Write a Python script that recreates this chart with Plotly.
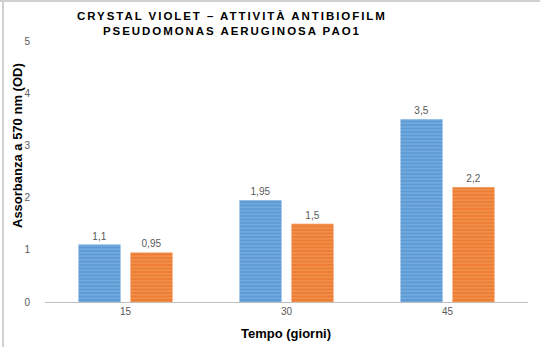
import plotly.graph_objects as go

categories = ["15", "30", "45"]
series_a = [1.1, 1.95, 3.5]
series_b = [0.95, 1.5, 2.2]
labels_a = ["1,1", "1,95", "3,5"]
labels_b = ["0,95", "1,5", "2,2"]
y_ticks = [0, 1, 2, 3, 4, 5]

W, H = 540, 347
ML, MR, MT, MB = 45, 12, 41, 45
pw, ph = W - ML - MR, H - MT - MB

def px(x):
    return (x - ML) / pw

def py(y):
    return (H - MB - y) / ph

fig = go.Figure()
fig.add_trace(go.Bar(
    x=categories, y=series_a, text=labels_a, textposition="outside",
    marker=dict(color="#5B9BD5", line=dict(width=0),
                pattern=dict(shape="-", fgcolor="#A9CBEB", bgcolor="#5B9BD5", size=3.5, solidity=0.3)),
    textfont=dict(family="Liberation Sans, Arial", size=10, color="#595959"),
    cliponaxis=False, showlegend=False,
))
fig.add_trace(go.Bar(
    x=categories, y=series_b, text=labels_b, textposition="outside",
    marker=dict(color="#ED7D31", line=dict(width=0),
                pattern=dict(shape="-", fgcolor="#F7B98F", bgcolor="#ED7D31", size=3.5, solidity=0.3)),
    textfont=dict(family="Liberation Sans, Arial", size=10, color="#595959"),
    cliponaxis=False, showlegend=False,
))

fig.update_layout(
    width=W, height=H,
    margin=dict(l=ML, r=MR, t=MT, b=MB),
    paper_bgcolor="white", plot_bgcolor="white",
    barmode="group", bargap=0.354, bargroupgap=0.19,
    font=dict(family="Liberation Sans, Arial", color="#595959"),
    xaxis=dict(type="category", showline=True, linecolor="#BFBFBF", linewidth=1,
               ticks="", tickfont=dict(size=10, color="#595959"), showgrid=False),
    yaxis=dict(range=[0, 5], tickvals=y_ticks, showgrid=False, zeroline=False,
               showline=False, ticks="", ticklabelstandoff=14,
               tickfont=dict(size=10, color="#595959")),
)

title_lines = ["CRYSTAL VIOLET – ATTIVITÀ ANTIBIOFILM", "PSEUDOMONAS AERUGINOSA PAO1"]
title_html = "<br>".join('<span style="letter-spacing:1.95px"><b>%s</b></span>' % t for t in title_lines)
fig.add_annotation(text=title_html,
                   x=px(232), y=py(24), xref="paper", yref="paper", showarrow=False,
                   xanchor="center", yanchor="middle",
                   font=dict(family="Liberation Sans, Arial", size=11.5, color="#000000"))
fig.add_annotation(text="<b>Assorbanza a 570 nm (OD)</b>", textangle=-90,
                   x=px(17), y=py(146), xref="paper", yref="paper", showarrow=False,
                   xanchor="center", yanchor="middle",
                   font=dict(family="Liberation Sans, Arial", size=13, color="#000000"))
fig.add_annotation(text="<b>Tempo (giorni)</b>",
                   x=px(286), y=py(333), xref="paper", yref="paper", showarrow=False,
                   xanchor="center", yanchor="middle",
                   font=dict(family="Liberation Sans, Arial", size=13, color="#000000"))

fig.add_shape(type="line", xref="paper", yref="paper", x0=px(3), x1=px(3), y0=py(0), y1=py(347),
              line=dict(color="#D0D0D0", width=2))
fig.add_shape(type="line", xref="paper", yref="paper", x0=px(0), x1=px(540), y0=py(1), y1=py(1),
              line=dict(color="#D0D0D0", width=2))

fig.write_html("out.html")
